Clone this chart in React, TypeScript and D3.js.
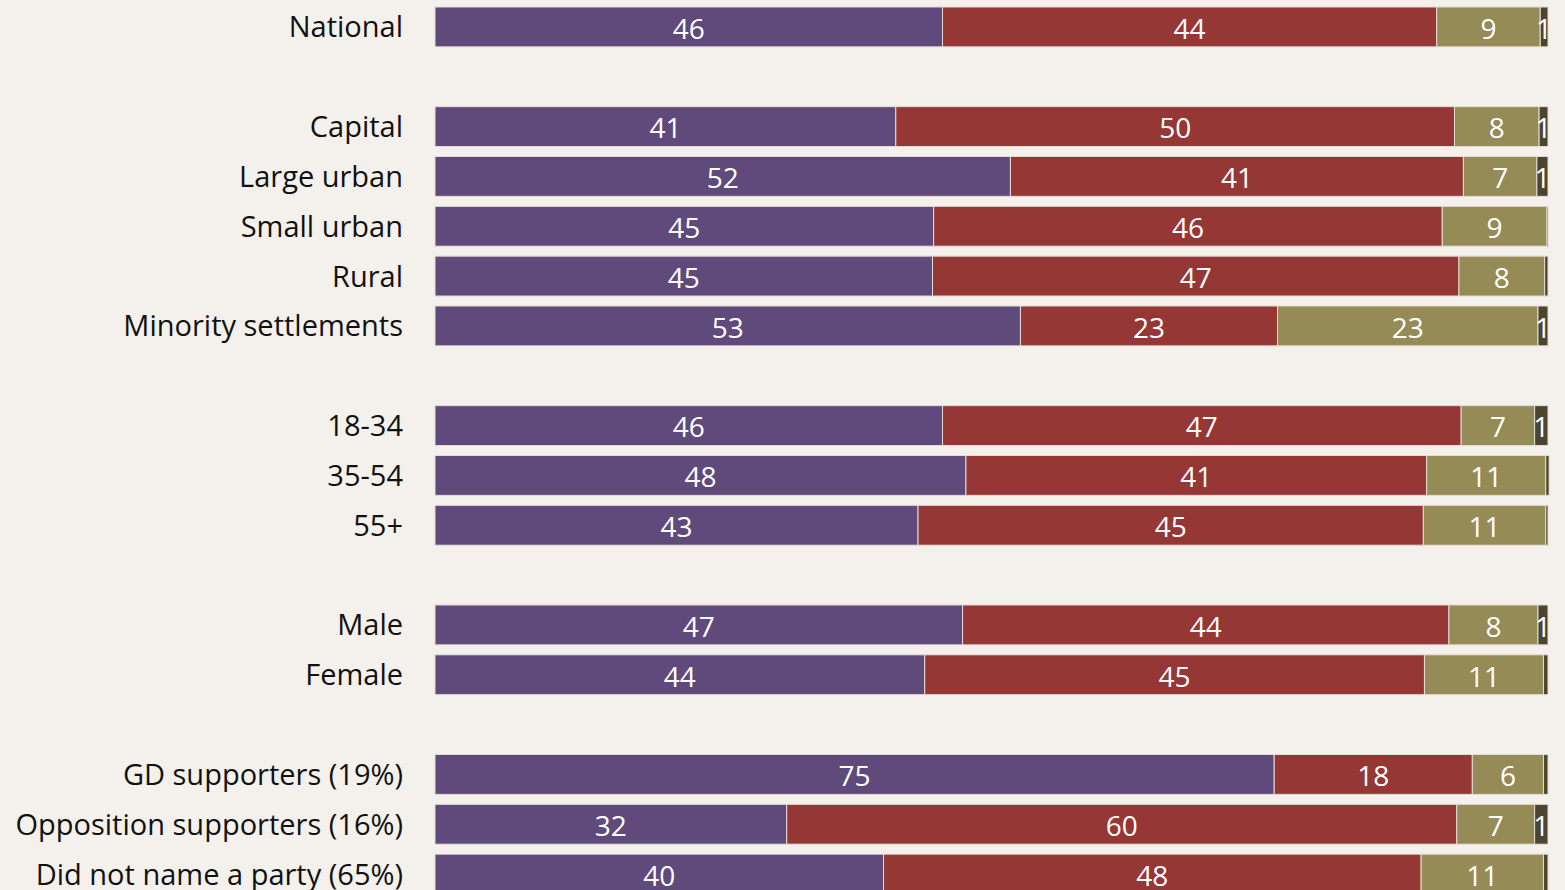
import React, { useEffect, useRef } from 'react';
import * as d3 from 'd3';

// rows, with the group each row belongs to (a blank slot sits between groups)
const categories = [
  'National',
  'Capital', 'Large urban', 'Small urban', 'Rural', 'Minority settlements',
  '18-34', '35-54', '55+',
  'Male', 'Female',
  'GD supporters (19%)', 'Opposition supporters (16%)', 'Did not name a party (65%)',
];
const groupOf = [0, 1, 1, 1, 1, 1, 2, 2, 2, 3, 3, 4, 4, 4];

// four answer shares per row (%)
const purple = [45.6, 41.4, 51.7, 44.8, 44.7, 52.6, 45.6, 47.7, 43.4, 47.4, 44.0, 75.4, 31.6, 40.3];
const red = [44.4, 50.2, 40.7, 45.7, 47.3, 23.1, 46.6, 41.4, 45.4, 43.7, 44.9, 17.8, 60.2, 48.3];
const olive = [9.3, 7.6, 6.6, 9.4, 7.7, 23.4, 6.6, 10.7, 11.0, 8.0, 10.7, 6.4, 7.0, 11.0];
const dark = [0.7, 0.8, 1.0, 0.1, 0.3, 0.9, 1.2, 0.3, 0.2, 0.9, 0.4, 0.4, 1.2, 0.4];

const seriesKeys = ['purple', 'red', 'olive', 'dark'];
const colors = ['#5f4a7b', '#953735', '#958b56', '#4b4530'];

const App = () => {
  const svg = useRef(null);
  const width = 1565;
  const height = 890;

  const renderChart = (svg: any) => {
    svg.selectAll('*').remove();

    const rows = categories.map((c, i) => ({
      name: c,
      slot: i + groupOf[i],
      purple: purple[i],
      red: red[i],
      olive: olive[i],
      dark: dark[i],
    }));

    const yscale = d3
      .scaleBand()
      .domain(d3.range(18).map(String))
      .range([2, 899])
      .paddingInner(0.2)
      .paddingOuter(0.1);

    const xscale = d3.scaleLinear().domain([0, 100]).range([435, 1548]);

    const stack = d3.stack().keys(seriesKeys);
    const series = stack(rows as any);

    svg
      .append('rect')
      .attr('width', width)
      .attr('height', height)
      .attr('fill', '#f4f1ec');

    const layers = svg
      .selectAll('.layer')
      .data(series)
      .enter()
      .append('g')
      .attr('class', 'layer')
      .attr('fill', (_: any, i: number) => colors[i]);

    layers
      .selectAll('rect')
      .data((d: any) => d)
      .enter()
      .append('rect')
      .attr('x', (d: any) => xscale(d[0]))
      .attr('width', (d: any) => xscale(d[1]) - xscale(d[0]))
      .attr('y', (d: any) => yscale(String(d.data.slot)))
      .attr('height', yscale.bandwidth())
      .attr('stroke', '#e6ddd6')
      .attr('stroke-width', 1);

    layers
      .selectAll('text')
      .data((d: any) => d.filter((s: any) => Math.round(s[1] - s[0]) >= 1))
      .enter()
      .append('text')
      .attr('x', (d: any) => (xscale(d[0]) + xscale(d[1])) / 2)
      .attr('y', (d: any) => (yscale(String(d.data.slot)) as number) + yscale.bandwidth() / 2)
      .attr('dy', '0.42em')
      .attr('text-anchor', 'middle')
      .attr('fill', '#ffffff')
      .attr('font-family', 'Open Sans, sans-serif')
      .attr('font-size', 28)
      .text((d: any) => Math.round(d[1] - d[0]));

    svg
      .selectAll('.cat')
      .data(rows)
      .enter()
      .append('text')
      .attr('class', 'cat')
      .attr('x', 403)
      .attr('y', (d: any) => (yscale(String(d.slot)) as number) + yscale.bandwidth() / 2)
      .attr('dy', '0.36em')
      .attr('text-anchor', 'end')
      .attr('fill', '#111111')
      .attr('font-family', 'Open Sans, sans-serif')
      .attr('font-size', 29)
      .text((d: any) => d.name);
  };

  useEffect(() => {
    renderChart(d3.select(svg.current));
  }, []);

  return (
    <svg
      ref={svg}
      width={width}
      height={height}
      style={{ position: 'absolute', left: 0, top: 0, display: 'block' }}
    />
  );
};

export default App;
